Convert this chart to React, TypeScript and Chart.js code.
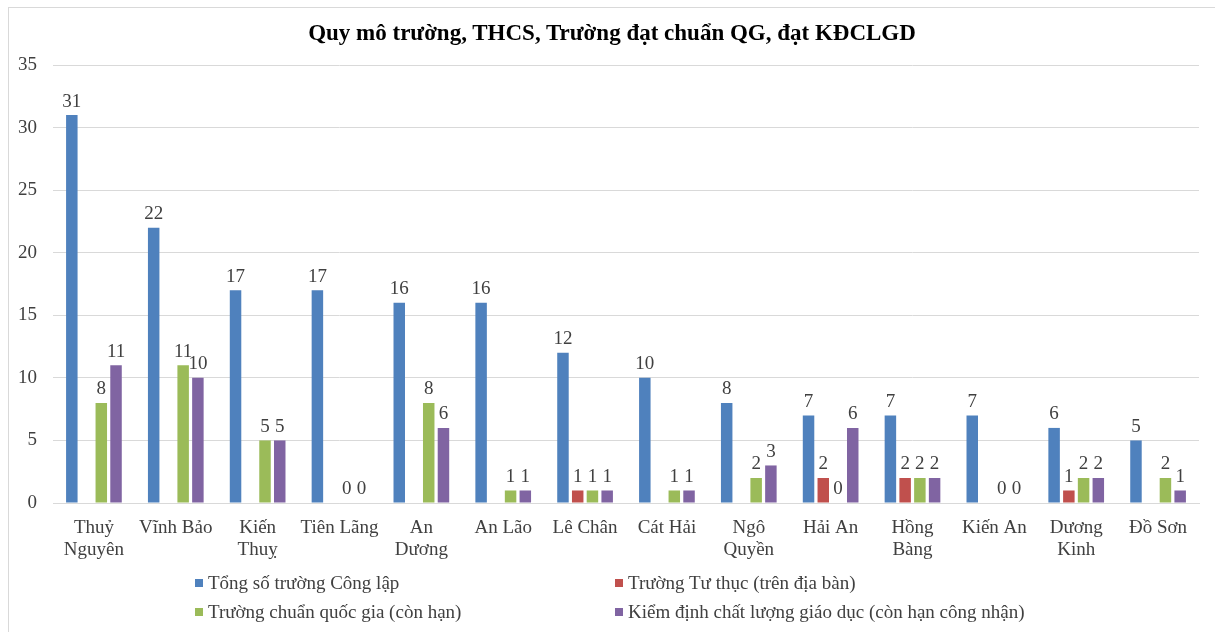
import React, { useEffect, useRef } from "react";
import { Chart, registerables } from "chart.js";

Chart.register(...registerables);

const categories: (string | string[])[] = [
  ["Thuỷ", "Nguyên"],
  "Vĩnh Bảo",
  ["Kiến", "Thuỵ"],
  "Tiên Lãng",
  ["An", "Dương"],
  "An Lão",
  "Lê Chân",
  "Cát Hải",
  ["Ngô", "Quyền"],
  "Hải An",
  ["Hồng", "Bàng"],
  "Kiến An",
  ["Dương", "Kinh"],
  "Đồ Sơn",
];

const congLap: (number | null)[] = [31, 22, 17, 17, 16, 16, 12, 10, 8, 7, 7, 7, 6, 5];
const tuThuc: (number | null)[] = [null, null, null, null, null, null, 1, null, null, 2, 2, null, 1, null];
const chuanQG: (number | null)[] = [8, 11, 5, 0, 8, 1, 1, 1, 2, 0, 2, 0, 2, 2];
const kiemDinh: (number | null)[] = [11, 10, 5, 0, 6, 1, 1, 1, 3, 6, 2, 0, 2, 1];

const seriesNames = [
  "Tổng số trường Công lập",
  "Trường Tư thục (trên địa bàn)",
  "Trường chuẩn quốc gia (còn hạn)",
  "Kiểm định chất lượng giáo dục (còn hạn công nhận)",
];
const colors = ["#4F81BD", "#C0504D", "#9BBB59", "#8064A2"];
const yTicks = [0, 5, 10, 15, 20, 25, 30, 35];

const FONT = "'Liberation Serif', 'Times New Roman', serif";

const dataLabelPlugin = {
  id: "dataLabels",
  afterDatasetsDraw(chart: any) {
    const ctx = chart.ctx;
    ctx.save();
    ctx.font = `19px ${FONT}`;
    ctx.fillStyle = "#404040";
    ctx.textAlign = "center";
    ctx.textBaseline = "bottom";
    chart.data.datasets.forEach((ds: any, di: number) => {
      const meta = chart.getDatasetMeta(di);
      meta.data.forEach((el: any, i: number) => {
        const v = ds.data[i];
        if (v === null || v === undefined) return;
        ctx.fillText(String(v), el.x, el.y - 4);
      });
    });
    ctx.restore();
  },
};

export default function App() {
  const ref = useRef<HTMLCanvasElement>(null);

  useEffect(() => {
    document.body.style.margin = "0";
    document.documentElement.style.overflow = "hidden";
    const canvas = ref.current;
    if (!canvas) return;
    const datasets = [congLap, tuThuc, chuanQG, kiemDinh].map((d, i) => ({
      label: seriesNames[i],
      data: d,
      backgroundColor: colors[i],
      categoryPercentage: 0.72,
      barPercentage: 0.78,
    }));
    const chart = new Chart(canvas, {
      type: "bar",
      data: { labels: categories, datasets },
      options: {
        animation: false,
        responsive: false,
        maintainAspectRatio: false,
        layout: { padding: { left: 8, right: 16, top: 65, bottom: 69 } },
        plugins: {
          legend: { display: false },
          title: { display: false },
          tooltip: { enabled: false },
        },
        scales: {
          x: {
            grid: { display: false, drawTicks: false },
            border: { display: true, color: "#d9d9d9", width: 1 },
            ticks: {
              color: "#404040",
              font: { family: FONT, size: 19, lineHeight: 1.15 },
              padding: 14,
              maxRotation: 0,
              autoSkip: false,
            },
            afterFit(scale: any) {
              scale.height = 60;
            },
          },
          y: {
            min: 0,
            max: 35,
            afterBuildTicks(scale: any) {
              scale.ticks = yTicks.map((v) => ({ value: v }));
            },
            grid: { color: "#d9d9d9", drawTicks: false, lineWidth: 1 },
            border: { display: false },
            ticks: {
              color: "#404040",
              font: { family: FONT, size: 19 },
              padding: 16,
            },
            afterFit(scale: any) {
              scale.width = 45;
            },
          },
        },
      },
      plugins: [dataLabelPlugin],
    });
    return () => chart.destroy();
  }, []);

  const legendItem = (i: number, left: number, top: number) => (
    <div
      key={i}
      style={{
        position: "absolute",
        left,
        top,
        display: "flex",
        alignItems: "center",
        fontFamily: FONT,
        fontSize: 19,
        color: "#404040",
        whiteSpace: "nowrap",
        lineHeight: "22px",
      }}
    >
      <span
        style={{
          display: "inline-block",
          width: 8,
          height: 8,
          background: colors[i],
          marginRight: 5,
        }}
      />
      {seriesNames[i]}
    </div>
  );

  return (
    <div style={{ position: "fixed", left: 0, top: 0, width: 1215, height: 632, background: "#fff" }}>
      <div
        style={{
          position: "absolute",
          left: 8,
          top: 7,
          width: 1220,
          height: 660,
          border: "1px solid #d9d9d9",
          boxSizing: "border-box",
        }}
      />
      <canvas ref={ref} width={1215} height={632} style={{ position: "absolute", left: 0, top: 0 }} />
      <div
        style={{
          position: "absolute",
          left: 0,
          width: 1224,
          top: 19,
          textAlign: "center",
          fontFamily: FONT,
          fontWeight: "bold",
          fontSize: 23,
          color: "#000",
          lineHeight: "28px",
        }}
      >
        Quy mô trường, THCS, Trường đạt chuẩn QG, đạt KĐCLGD
      </div>
      {legendItem(0, 195, 572)}
      {legendItem(1, 615, 572)}
      {legendItem(2, 195, 601)}
      {legendItem(3, 615, 601)}
    </div>
  );
}
